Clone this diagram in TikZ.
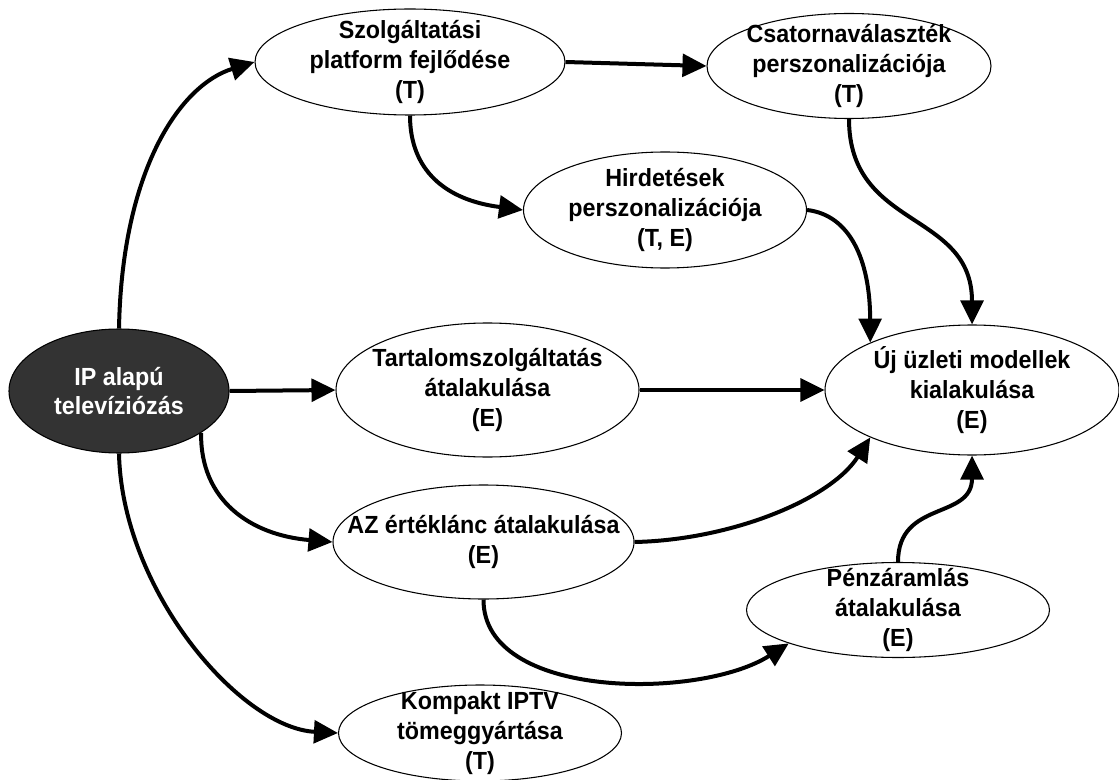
\documentclass[tikz,border=0pt]{standalone}
\usepackage{fontspec}
\setmainfont{Liberation Sans}[FakeStretch=0.94]
\usetikzlibrary{arrows.meta,shapes.geometric}
\definecolor{darkfill}{HTML}{333333}
\begin{document}
\begin{tikzpicture}[x=0.75pt,y=-0.75pt,
  ell/.style 2 args={ellipse,draw=black,line width=0.8pt,fill=white,inner sep=0pt,
    minimum width=#1*0.75pt,minimum height=#2*0.75pt},
  darkell/.style 2 args={ellipse,draw=black,line width=0.8pt,fill=darkfill,inner sep=0pt,
    minimum width=#1*0.75pt,minimum height=#2*0.75pt},
  txt/.style={align=center,inner sep=0pt,font=\fontsize{18.6pt}{22.2pt}\selectfont\bfseries},
  conn/.style={line width=3pt,-{Triangle[length=18pt,width=17pt]}}]
\fill[white] (0,0) rectangle (1119,780);
\useasboundingbox (0,0) rectangle (1119,780);

% nodes
\node[darkell={220}{124}] (ip) at (119,391) {};
\node[txt,text=white] (ip-t) at (ip) {IP alapú\\televíziózás};
\node[ell={310}{106}] (szolg) at (410,62) {};
\node[txt] (szolg-t) at (szolg) {Szolgáltatási\\platform fejlődése\\(T)};
\node[ell={284}{105}] (csat) at (849,66) {};
\node[txt] (csat-t) at (csat) {Csatornaválaszték\\perszonalizációja\\(T)};
\node[ell={283}{116}] (hird) at (665,210) {};
\node[txt] (hird-t) at (hird) {Hirdetések\\perszonalizációja\\(T, E)};
\node[ell={303}{134}] (tart) at (487.5,390) {};
\node[txt] (tart-t) at (tart) {Tartalomszolgáltatás\\átalakulása\\(E)};
\node[ell={294}{130}] (uj) at (972,390) {};
\node[txt] (uj-t) at (uj) {Új üzleti modellek\\kialakulása\\(E)};
\node[ell={301}{114}] (az) at (483.5,542) {};
\node[txt] (az-t) at (az) {AZ értéklánc átalakulása\\(E)};
\node[ell={303}{95}] (penz) at (898,610) {};
\node[txt] (penz-t) at (penz) {Pénzáramlás\\átalakulása\\(E)};
\node[ell={283}{96}] (komp) at (480,733) {};
\node[txt] (komp-t) at (komp) {Kompakt IPTV\\tömeggyártása\\(T)};

% connectors
\draw[conn] (ip.north) .. controls (122,170) and (180,85) .. (szolg.west);
\draw[conn] (ip.east) -- (tart.west);
\draw[conn] (ip.-27) .. controls (200,500) and (250,535) .. (az.west);
\draw[conn] (ip.south) .. controls (122,590) and (240,728) .. (komp.west);
\draw[conn] (szolg.east) -- (csat.west);
\draw[conn] (szolg.south) .. controls (410,170) and (445,200) .. (hird.west);
\draw[conn] (csat.south) .. controls (849,230) and (972,210) .. (uj.north);
\draw[conn] (hird.east) .. controls (850,215) and (870,260) .. (uj.155);
\draw[conn] (tart.east) -- (uj.west);
\draw[conn] (az.east) .. controls (730,540) and (830,500) .. (uj.205);
\draw[conn] (az.south) .. controls (483,700) and (700,700) .. (penz.197);
\draw[conn] (penz.north) .. controls (898,500) and (972,520) .. (uj.south);
\end{tikzpicture}
\end{document}
